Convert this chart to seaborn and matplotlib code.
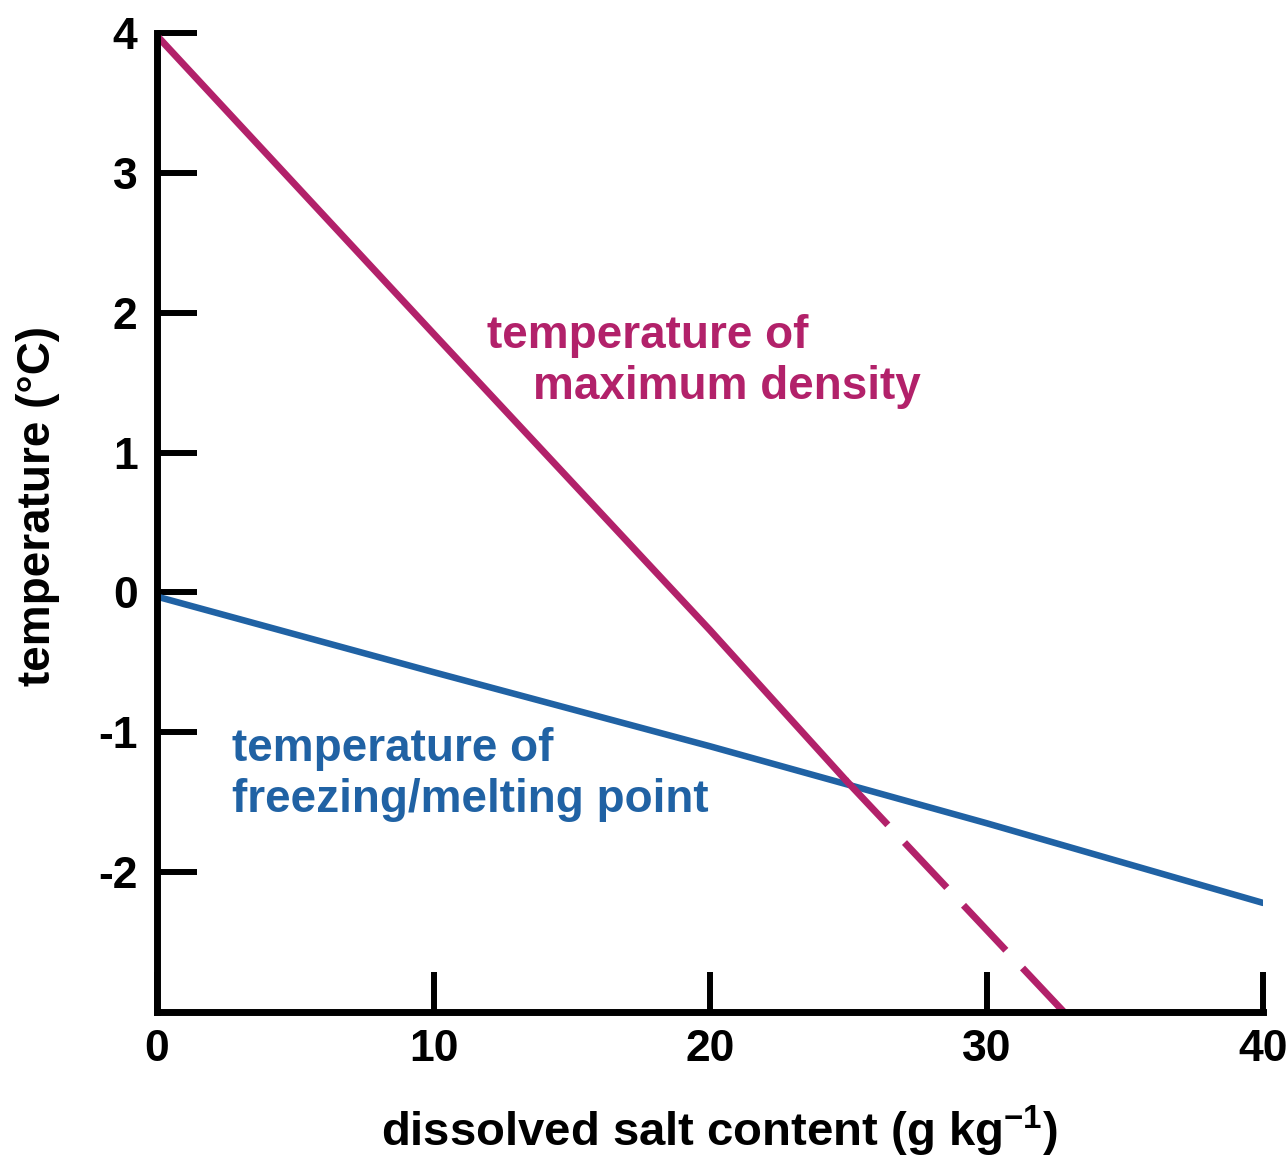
#Salinity vs temperature of maximum density / freezing point
import numpy as np
import pandas as pd
import matplotlib
matplotlib.use("Agg")
import matplotlib.pyplot as plt
import seaborn as sns

# values
salt_maxdens = [0, 10, 20, 24.9]
temp_maxdens = [3.98, 1.85, -0.27, -1.34]
salt_maxdens_dashed = [24.9, 32.8]
temp_maxdens_dashed = [-1.34, -3.0]
salt_freeze = [0, 10, 20, 30, 40]
temp_freeze = [-0.03, -0.57, -1.10, -1.65, -2.22]
x_ticks = [0, 10, 20, 30, 40]
y_ticks = [-2, -1, 0, 1, 2, 3, 4]

magenta = "#B2216A"
blue = "#2062A4"

sns.set_theme(style="ticks")
plt.rcParams['font.family'] = ['Liberation Sans', 'DejaVu Sans']
plt.rcParams['font.weight'] = 'bold'
plt.rcParams['text.color'] = 'black'
plt.rcParams['axes.labelcolor'] = 'black'
plt.rcParams['axes.unicode_minus'] = False
plt.rcParams['mathtext.fontset'] = 'custom'
plt.rcParams['mathtext.rm'] = 'Liberation Sans:bold'
plt.rcParams['mathtext.default'] = 'rm'

fig = plt.figure(figsize=(12.88, 11.61), dpi=100)
ax = fig.add_axes([157/1288, 149/1161, 1106/1288, 979/1161])

df_md = pd.DataFrame({'salt': salt_maxdens, 'temp': temp_maxdens})
df_mdd = pd.DataFrame({'salt': salt_maxdens_dashed, 'temp': temp_maxdens_dashed})
df_fr = pd.DataFrame({'salt': salt_freeze, 'temp': temp_freeze})

sns.lineplot(data=df_fr, x='salt', y='temp', color=blue, linewidth=4.7, ax=ax)
sns.lineplot(data=df_md, x='salt', y='temp', color=magenta, linewidth=5, ax=ax)
sns.lineplot(data=df_mdd, x='salt', y='temp', color=magenta, linewidth=5,
             linestyle=(0, (8.9, 3.5)), ax=ax)

ax.set_xlim(0, 40)
ax.set_ylim(-3, 4)
ax.set_xticks(x_ticks)
ax.set_yticks(y_ticks)
sns.despine(ax=ax)
for side in ['left', 'bottom']:
    ax.spines[side].set_linewidth(5)
    ax.spines[side].set_color('black')
ax.tick_params(axis='both', direction='in', length=29, width=4.3, color='black',
               labelsize=32, labelcolor='black')
ax.tick_params(axis='y', pad=14)
ax.tick_params(axis='x', pad=12)

ax.set_xlabel(r'dissolved salt content (g kg$^{-1}$)', fontsize=34, fontweight='bold')
ax.set_ylabel('temperature (°C)', fontsize=33, fontweight='bold')
ax.xaxis.set_label_coords(0.509, -0.094)
ax.yaxis.set_label_coords(-0.088, 0.517)

ax.text(11.93, 1.748, 'temperature of', color=magenta, fontsize=33, fontweight='bold', va='baseline')
ax.text(13.6, 1.383, 'maximum density', color=magenta, fontsize=33, fontweight='bold', va='baseline')
ax.text(2.71, -1.205, 'temperature of', color=blue, fontsize=33, fontweight='bold', va='baseline')
ax.text(2.71, -1.570, 'freezing/melting point', color=blue, fontsize=33, fontweight='bold', va='baseline')

ax.grid(False)
fig.savefig('out.png', dpi=100)
plt.close()
